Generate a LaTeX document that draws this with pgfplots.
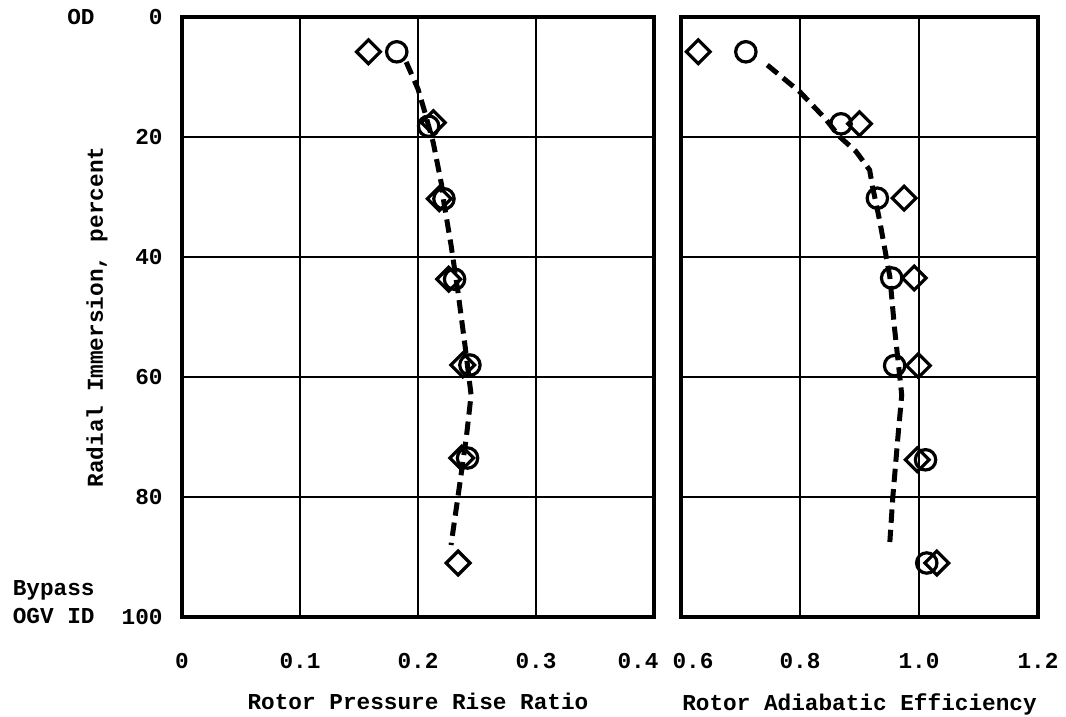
\documentclass[border=0pt]{standalone}
\usepackage{pgfplots}
\pgfplotsset{compat=1.18}
\usepackage{fontspec}
\setmainfont{Liberation Mono}
\newcommand{\tw}{\fontsize{11.4}{13}\selectfont\bfseries}
\begin{document}
\begin{tikzpicture}[font=\tw]
\useasboundingbox (0,0) rectangle (533bp,358.5bp);
\pgfplotsset{
  myaxis/.style={
    scale only axis, anchor=south west,
    y dir=reverse, ymin=0, ymax=100, height=300bp,
    axis line style={line width=2bp},
    grid=major, major grid style={line width=1.2bp, black},
    major tick length=0pt,
    ytick={0,20,40,60,80,100},
    every tick label/.append style={font=\tw},
    xticklabel style={anchor=north, inner sep=0pt, yshift=-18bp},
    xlabel style={at={(axis description cs:0.5,0)}, anchor=north, inner sep=0pt, yshift=-38bp, font=\tw},
    ylabel style={font=\tw},
  },
  circ/.style={only marks, mark=o, mark size=5.1bp, mark options={solid, line width=1.6bp}},
  diam/.style={only marks, mark=square, mark size=4.2bp, mark options={solid, rotate=45, line width=1.6bp}},
  fair/.style={no marks, line width=2.5bp, dash pattern=on 6.7bp off 3.5bp},
}
\begin{axis}[myaxis, at={(91bp,50bp)}, width=236bp,
  xmin=0, xmax=0.4, xtick={0,0.1,0.2,0.3}, xticklabels={0,0.1,0.2,0.3},
  extra x ticks={0.4}, extra x tick labels={0.4},
  extra x tick style={xticklabel style={xshift=-8bp}},
  yticklabels={0,20,40,60,80,100},
  yticklabel style={anchor=east, inner sep=0pt, xshift=-9.5bp},
  xlabel={Rotor Pressure Rise Ratio},
  ylabel={Radial Immersion, percent},
  ylabel style={at={(axis description cs:-0.180,0.5)}, anchor=center}]
\addplot[fair] coordinates {(0.190,7.5) (0.200,12) (0.206,16) (0.213,21) (0.220,28) (0.222,31) (0.228,38) (0.234,46) (0.240,55) (0.245,63) (0.241,70) (0.236,77) (0.228,88)};
\addplot[circ] coordinates {(0.182,5.8) (0.209,18.2) (0.222,30.3) (0.231,43.7) (0.244,58.0) (0.242,73.5)};
\addplot[diam] coordinates {(0.158,5.8) (0.213,17.6) (0.218,30.3) (0.226,43.7) (0.238,58.0) (0.237,73.5) (0.234,91.0)};
\end{axis}
\begin{axis}[myaxis, at={(340.5bp,50bp)}, width=178.5bp,
  xmin=0.6, xmax=1.2, xtick={0.8,1.0,1.2}, xticklabels={0.8,1.0,1.2},
  extra x ticks={0.6}, extra x tick labels={0.6},
  extra x tick style={xticklabel style={xshift=6bp}},
  yticklabels={},
  xlabel={Rotor Adiabatic Efficiency}]
\addplot[fair] coordinates {(0.745,8) (0.800,12.5) (0.843,17) (0.866,19.9) (0.894,22.4) (0.917,25.5) (0.922,28.3) (0.934,34) (0.951,43.3) (0.959,52) (0.971,63) (0.965,69.5) (0.956,80) (0.951,87.5)};
\addplot[circ] coordinates {(0.709,5.8) (0.869,17.8) (0.930,30.2) (0.954,43.5) (0.959,58.1) (1.011,73.8) (1.013,91.0)};
\addplot[diam] coordinates {(0.629,5.8) (0.900,17.8) (0.975,30.2) (0.992,43.5) (0.999,58.1) (0.997,73.8) (1.030,91.0)};
\end{axis}
\node[anchor=east, inner sep=0pt] at (47.5bp,350bp) {OD};
\node[anchor=base east, inner sep=0pt] at (47.5bp,60.5bp) {Bypass};
\node[anchor=base east, inner sep=0pt] at (47.5bp,46.5bp) {OGV ID};
\end{tikzpicture}
\end{document}
